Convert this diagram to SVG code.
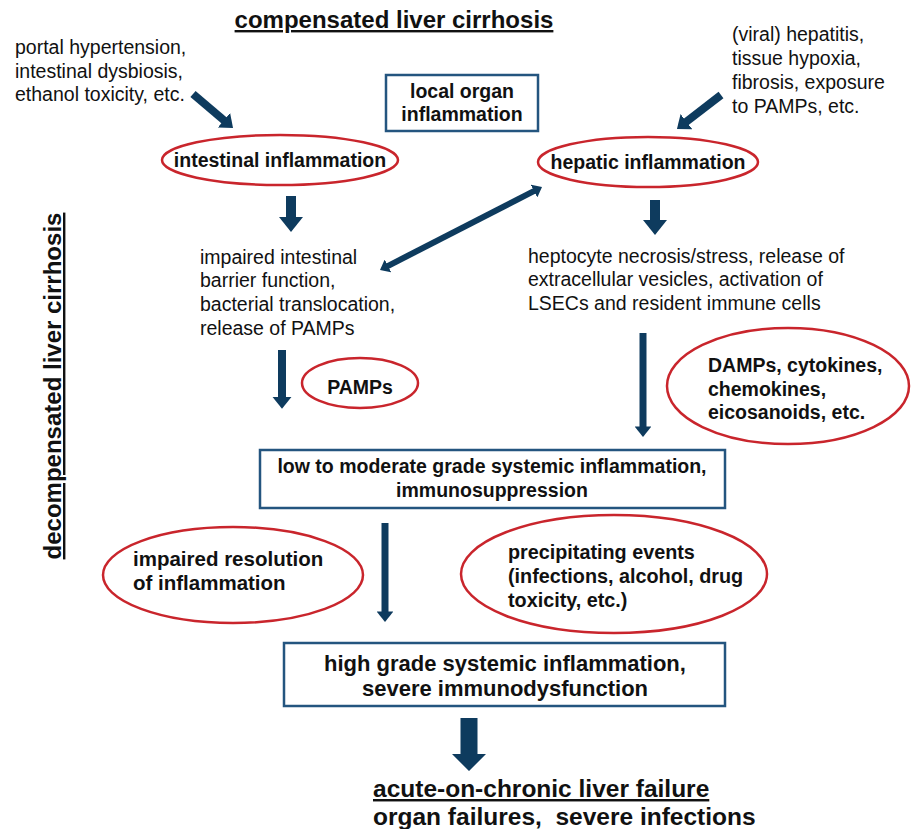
<svg xmlns="http://www.w3.org/2000/svg" width="917" height="829" viewBox="0 0 917 829">
<style>
text{font-family:"Liberation Sans",Arial,sans-serif;fill:#111;font-size:19.5px}
.b{font-weight:bold}
.t{font-weight:bold;font-size:24px;text-decoration:underline}
.big{font-weight:bold;font-size:24.5px;white-space:pre}
.box{fill:#fff;stroke:#24557f;stroke-width:2.5}
.ell{fill:#fff;stroke:#c9252c;stroke-width:2.5}
.ar{fill:none;stroke:#0e3b5e;marker-end:url(#ah)}
</style>
<defs>
<marker id="ah" viewBox="0 0 10 10" preserveAspectRatio="none" markerWidth="1.5" markerHeight="2.4" refX="1" refY="5" orient="auto-start-reverse">
<path d="M0,0 L10,5 L0,10 Z" fill="#0e3b5e"/>
</marker>
</defs>
<rect width="917" height="829" fill="#fff"/>

<g id="titles">
<text class="t" x="394" y="28" text-anchor="middle">compensated liver cirrhosis</text>
<text class="t" transform="translate(61,386) rotate(-90)" text-anchor="middle">decompensated liver cirrhosis</text>
</g>

<g id="connectors">
<line class="ar" x1="193" y1="94" x2="224.8" y2="121" stroke-width="8"/>
<line class="ar" x1="721" y1="95" x2="685.5" y2="122.4" stroke-width="8"/>
<line class="ar" x1="291" y1="196" x2="291" y2="218.5" stroke-width="10"/>
<line class="ar" x1="655" y1="200" x2="655" y2="221.5" stroke-width="10"/>
<line class="ar" x1="387.2" y1="266.3" x2="534.8" y2="190.7" stroke-width="6" marker-start="url(#ah)"/>
<line class="ar" x1="282" y1="350" x2="282" y2="398" stroke-width="8"/>
<line class="ar" x1="643" y1="333" x2="643" y2="427.5" stroke-width="7"/>
<line class="ar" x1="385" y1="523" x2="385" y2="612.5" stroke-width="7"/>
<polygon points="460.5,718 477.5,718 477.5,754 486,754 469,771 452,754 460.5,754" fill="#0e3b5e"/>
</g>

<g id="n-portal">
<text x="15"><tspan x="15" y="54">portal hypertension,</tspan><tspan x="15" y="78">intestinal dysbiosis,</tspan><tspan x="15" y="101">ethanol toxicity, etc.</tspan></text>
</g>
<g id="n-viral">
<text x="732"><tspan x="732" y="41">(viral) hepatitis,</tspan><tspan x="732" y="65">tissue hypoxia,</tspan><tspan x="732" y="89">fibrosis, exposure</tspan><tspan x="732" y="113">to PAMPs, etc.</tspan></text>
</g>
<g id="n-local">
<rect class="box" x="386" y="75" width="152" height="56"/>
<text class="b" text-anchor="middle"><tspan x="462" y="98">local organ</tspan><tspan x="462" y="121">inflammation</tspan></text>
</g>
<g id="n-intestinal">
<ellipse class="ell" cx="280" cy="160" rx="118" ry="25"/>
<text class="b" x="280" y="167" text-anchor="middle">intestinal inflammation</text>
</g>
<g id="n-hepatic">
<ellipse class="ell" cx="648" cy="162" rx="110" ry="25"/>
<text class="b" x="648" y="169" text-anchor="middle">hepatic inflammation</text>
</g>
<g id="n-barrier">
<text><tspan x="200" y="264">impaired intestinal</tspan><tspan x="200" y="287">barrier function,</tspan><tspan x="200" y="311">bacterial translocation,</tspan><tspan x="200" y="335">release of PAMPs</tspan></text>
</g>
<g id="n-hepto">
<text><tspan x="528" y="263">heptocyte necrosis/stress, release of</tspan><tspan x="528" y="286">extracellular vesicles, activation of</tspan><tspan x="528" y="310">LSECs and resident immune cells</tspan></text>
</g>
<g id="n-pamps">
<ellipse class="ell" cx="360" cy="383" rx="58" ry="25"/>
<text class="b" x="360" y="394" text-anchor="middle">PAMPs</text>
</g>
<g id="n-damps">
<ellipse class="ell" cx="788" cy="386" rx="121" ry="58"/>
<text class="b"><tspan x="708" y="372">DAMPs, cytokines,</tspan><tspan x="708" y="396">chemokines,</tspan><tspan x="708" y="419">eicosanoids, etc.</tspan></text>
</g>
<g id="n-lowgrade">
<rect class="box" x="260" y="450" width="465" height="58"/>
<text class="b" text-anchor="middle"><tspan x="492" y="473">low to moderate grade systemic inflammation,</tspan><tspan x="492" y="497">immunosuppression</tspan></text>
</g>
<g id="n-impaired">
<ellipse class="ell" cx="233" cy="575" rx="130" ry="48"/>
<text class="b" style="font-size:20.5px"><tspan x="133" y="566">impaired resolution</tspan><tspan x="133" y="590">of inflammation</tspan></text>
</g>
<g id="n-precip">
<ellipse class="ell" cx="614" cy="574" rx="153" ry="59"/>
<text class="b" style="font-size:19.8px"><tspan x="508" y="559">precipitating events</tspan><tspan x="508" y="583">(infections, alcohol, drug</tspan><tspan x="508" y="607">toxicity, etc.)</tspan></text>
</g>
<g id="n-highgrade">
<rect class="box" x="284" y="643" width="441" height="63"/>
<text class="b" text-anchor="middle" style="font-size:22px"><tspan x="505" y="671">high grade systemic inflammation,</tspan><tspan x="505" y="696">severe immunodysfunction</tspan></text>
</g>
<g id="n-aclf">
<text class="t" x="373" y="797" style="font-size:24.5px">acute-on-chronic liver failure</text>
<text class="big" x="373" y="825" xml:space="preserve">organ failures,  severe infections</text>
</g>
</svg>
